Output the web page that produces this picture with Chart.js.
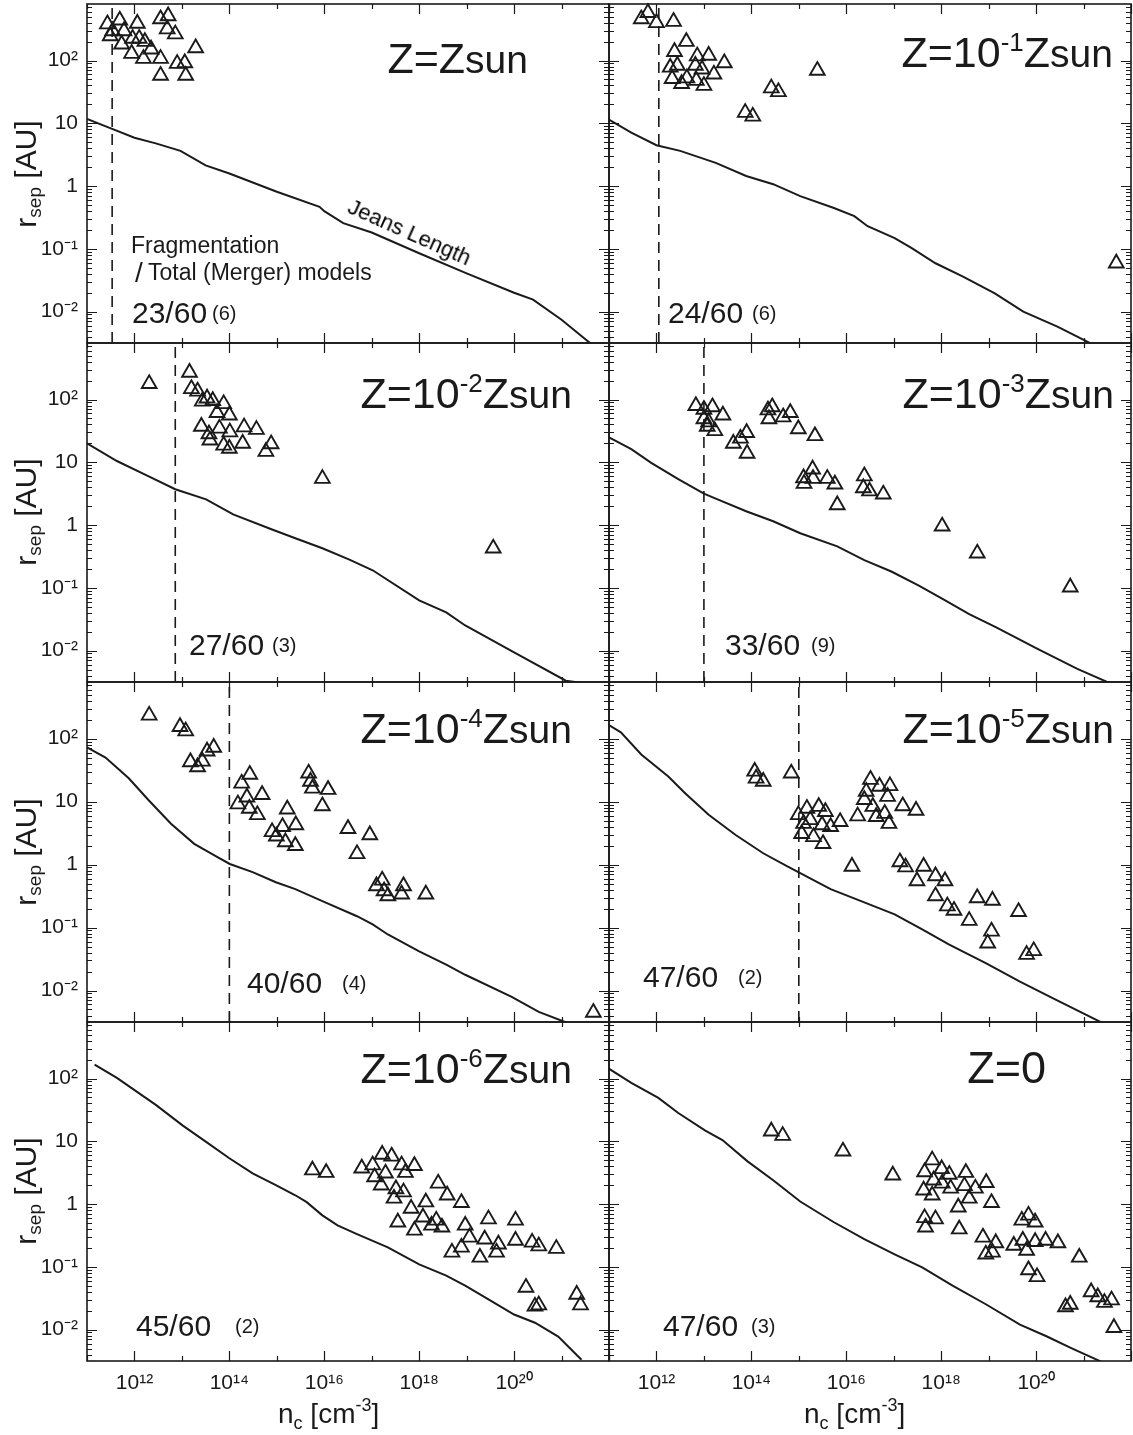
<!DOCTYPE html>
<html>
<head>
<meta charset="utf-8">
<script src="https://cdn.jsdelivr.net/npm/chart.js@4.4.1/dist/chart.umd.min.js"></script>
<style>
  body { margin: 0; background: #fff; }
  #fig { position: relative; width: 1133px; height: 1435px; overflow: hidden;
         font-family: 'Liberation Sans', Arial, sans-serif; color: #1a1a1a; }
  #fig canvas { position: absolute; }
  .t { position: absolute; white-space: nowrap; line-height: 1; }
</style>
</head>
<body>
<div id="fig"></div>
<script>
// all values, stored as [log10 n_c, log10 r_sep]
var ptsZsun = [[11.43,2.58],[11.69,2.64],[11.54,2.47],[11.49,2.39],[12.06,2.59],[11.78,2.47],
  [11.96,2.35],[12.10,2.35],[12.22,2.30],[11.73,2.26],[12.35,2.18],[11.94,2.11],[12.19,2.03],
  [12.55,2.03],[12.55,2.66],[12.71,2.71],[12.69,2.50],[12.86,2.42],[12.90,1.95],[13.06,1.96],
  [12.55,1.76],[13.08,1.76],[13.29,2.20]];
var ptsZm1 = [[11.68,2.66],[11.82,2.76],[12.00,2.60],[12.36,2.62],[12.63,2.30],[12.38,2.14],
  [12.86,2.07],[13.10,2.08],[13.43,1.96],[12.29,1.89],[12.44,1.92],[12.82,1.92],[12.96,1.86],
  [13.21,1.78],[12.33,1.71],[12.64,1.72],[12.53,1.63],[12.84,1.68],[13.00,1.60],[15.39,1.84],
  [14.42,1.56],[14.57,1.50],[13.87,1.17],[14.03,1.11],[21.69,-1.23]];
var ptsZm2 = [[12.31,2.25],[13.16,2.43],[13.20,2.17],[13.33,2.13],[13.43,1.97],[13.53,2.02],
  [13.65,1.98],[13.88,1.93],[13.74,1.79],[14.00,1.75],[13.41,1.57],[13.79,1.54],[13.57,1.45],
  [14.01,1.48],[14.31,1.56],[14.57,1.52],[13.59,1.35],[14.28,1.30],[13.88,1.27],[14.00,1.22],
  [14.77,1.17],[14.88,1.29],[15.96,0.74],[19.56,-0.37]];
var ptsZm3 = [[12.83,1.90],[13.00,1.84],[13.18,1.88],[13.40,1.75],[13.00,1.69],[13.10,1.64],
  [13.07,1.57],[13.23,1.50],[13.62,1.30],[13.77,1.38],[13.90,1.47],[13.91,1.14],[14.35,1.83],
  [14.44,1.88],[14.37,1.69],[14.67,1.72],[14.82,1.79],[14.99,1.53],[15.34,1.42],[15.10,0.75],
  [15.29,0.89],[15.11,0.66],[15.30,0.74],[15.60,0.74],[15.76,0.65],[15.81,0.32],[16.38,0.78],
  [16.36,0.59],[16.49,0.54],[16.78,0.49],[18.02,-0.02],[18.76,-0.45],[20.72,-0.99]];
var ptsZm4 = [[12.31,2.37],[12.96,2.19],[13.08,2.12],[13.18,1.63],[13.33,1.55],[13.43,1.64],
  [13.53,1.80],[13.67,1.86],[14.26,1.29],[14.43,1.43],[14.69,1.11],[14.37,1.07],[14.18,0.96],
  [14.42,0.89],[14.59,0.79],[15.22,0.88],[14.90,0.52],[14.99,0.45],[15.12,0.60],[15.18,0.36],
  [15.40,0.63],[15.39,0.30],[15.67,1.45],[15.71,1.32],[15.75,1.21],[16.08,1.19],[15.96,0.93],
  [16.50,0.57],[16.69,0.17],[16.96,0.47],[17.22,-0.25],[17.10,-0.34],[17.26,-0.42],[17.34,-0.50],
  [17.63,-0.47],[17.67,-0.34],[18.14,-0.47],[21.67,-2.35]];
var ptsZm5 = [[14.07,1.48],[14.10,1.37],[14.25,1.32],[14.84,1.45],[14.99,0.79],[15.17,0.89],
  [15.42,0.92],[15.56,0.84],[15.10,0.65],[15.24,0.71],[15.06,0.49],[15.31,0.44],[15.49,0.63],
  [15.51,0.33],[15.67,0.60],[15.87,0.68],[16.24,0.77],[16.38,1.03],[16.51,1.35],[16.42,1.16],
  [16.56,0.92],[16.70,1.24],[16.92,1.25],[16.87,1.08],[16.63,0.76],[16.81,0.81],[16.90,0.65],
  [17.19,0.93],[17.47,0.86],[16.12,-0.03],[17.13,0.04],[17.25,-0.04],[17.63,-0.03],[17.49,-0.26],
  [17.88,-0.18],[18.08,-0.26],[17.88,-0.50],[18.13,-0.66],[18.27,-0.73],[18.59,-0.89],
  [18.76,-0.53],[19.08,-0.57],[19.63,-0.75],[19.06,-1.06],[18.98,-1.25],[19.80,-1.43],[19.95,-1.37]];
var ptsZm6 = [[15.75,0.54],[16.04,0.50],[16.79,0.57],[17.02,0.62],[17.06,0.43],[17.22,0.79],
  [17.42,0.76],[17.29,0.49],[17.20,0.30],[17.63,0.62],[17.71,0.50],[17.90,0.61],[17.51,0.24],
  [17.47,0.09],[17.67,0.19],[17.83,-0.07],[17.55,-0.29],[17.90,-0.42],[18.14,0.03],[18.08,-0.21],
  [18.26,-0.34],[18.36,-0.26],[18.48,-0.37],[18.40,0.33],[18.59,0.14],[18.89,0.02],[18.97,-0.34],
  [19.06,-0.53],[18.89,-0.69],[18.69,-0.77],[19.38,-0.56],[19.46,-0.24],[19.67,-0.64],[19.63,-0.77],
  [19.28,-0.85],[20.03,-0.58],[20.03,-0.26],[20.38,-0.61],[20.52,-0.67],[20.89,-0.71],[20.25,-1.33],
  [20.44,-1.63],[20.52,-1.61],[21.32,-1.44],[21.40,-1.61]];
var ptsZ0 = [[14.42,1.16],[14.66,1.09],[15.93,0.84],[16.98,0.46],[17.81,0.70],[17.65,0.51],
  [18.01,0.56],[18.17,0.47],[17.84,0.38],[18.52,0.50],[18.02,0.33],[18.49,0.29],[18.20,0.25],
  [18.72,0.25],[17.63,0.22],[17.81,0.14],[18.95,0.34],[18.59,0.09],[19.06,0.02],[18.36,-0.05],
  [17.65,-0.22],[17.88,-0.24],[17.67,-0.37],[18.38,-0.40],[18.88,-0.53],[19.15,-0.62],[18.94,-0.80],
  [19.08,-0.77],[19.53,-0.66],[19.72,-0.58],[19.98,-0.60],[20.20,-0.58],[20.46,-0.62],[19.70,-0.26],
  [19.84,-0.18],[19.98,-0.29],[19.80,-0.74],[20.91,-0.85],[19.84,-1.05],[20.02,-1.16],[20.62,-1.64],
  [20.72,-1.60],[21.16,-1.40],[21.30,-1.48],[21.44,-1.57],[21.59,-1.53],[21.64,-1.97]];

// Jeans length curves
var jeansZsun = [[11.0,1.07],[11.53,0.91],[12.0,0.77],[12.45,0.68],[12.97,0.56],[13.5,0.33],[14.0,0.20],
  [15.0,-0.09],[15.9,-0.33],[16.0,-0.40],[16.4,-0.59],[17.0,-0.74],[18.0,-1.07],[19.0,-1.39],
  [20.0,-1.70],[20.4,-1.81],[21.0,-2.13],[21.6,-2.5]];
var jeansZm1 = [[10.97,1.07],[11.47,0.85],[12.0,0.65],[12.5,0.56],[13.25,0.37],[13.89,0.16],[14.46,0.03],
  [15.03,-0.16],[15.74,-0.35],[16.17,-0.48],[16.45,-0.64],[17.02,-0.83],[17.38,-0.99],[17.88,-1.23],
  [18.45,-1.44],[19.13,-1.71],[19.73,-2.0],[20.45,-2.24],[21.16,-2.51]];
var jeansZm2 = [[11.0,1.30],[11.63,1.02],[12.29,0.78],[12.86,0.57],[13.51,0.41],[14.08,0.17],[14.9,-0.07],
  [15.39,-0.21],[15.96,-0.37],[16.53,-0.55],[17.02,-0.72],[18.0,-1.20],[18.57,-1.39],[18.97,-1.60],
  [20.0,-2.03],[21.09,-2.48],[21.58,-2.53]];
var jeansZm3 = [[10.97,1.41],[11.47,1.21],[11.89,0.99],[12.46,0.73],[13.0,0.50],[13.25,0.42],[13.89,0.22],
  [14.46,0.06],[15.03,-0.13],[15.81,-0.34],[16.38,-0.56],[16.95,-0.74],[17.52,-0.96],[18.02,-1.17],
  [18.59,-1.42],[19.16,-1.63],[20.02,-1.97],[20.87,-2.29],[21.59,-2.53]];
var jeansZm4 = [[11.0,1.86],[11.39,1.70],[11.88,1.37],[12.29,1.03],[12.77,0.65],[13.26,0.33],[13.75,0.12],
  [14.01,0.01],[14.49,-0.12],[14.98,-0.28],[15.39,-0.39],[15.96,-0.58],[16.69,-0.82],[17.02,-0.95],
  [17.34,-1.11],[18.0,-1.38],[18.57,-1.59],[18.97,-1.75],[19.95,-2.10],[20.52,-2.34],[21.18,-2.53]];
var jeansZm5 = [[10.97,2.23],[11.25,2.10],[11.68,1.75],[12.25,1.40],[12.61,1.13],[13.10,0.79],[13.67,0.47],
  [14.25,0.18],[14.74,-0.02],[14.99,-0.12],[15.67,-0.39],[16.38,-0.60],[17.02,-0.79],[17.6,-1.03],
  [18.17,-1.27],[18.95,-1.57],[19.66,-1.86],[20.37,-2.13],[21.44,-2.53]];
var jeansZm6 = [[11.16,2.22],[11.63,2.01],[12.45,1.58],[13.02,1.25],[13.51,0.99],[14.0,0.73],[14.49,0.49],
  [14.98,0.30],[15.39,0.14],[15.63,0.03],[15.96,-0.18],[16.28,-0.34],[16.69,-0.48],[17.34,-0.69],
  [18.0,-0.96],[18.57,-1.14],[18.97,-1.30],[19.46,-1.52],[20.0,-1.76],[20.44,-1.89],[20.93,-2.11],[21.42,-2.48]];
var jeansZ0 = [[10.97,2.17],[11.47,1.93],[12.04,1.69],[12.46,1.45],[13.03,1.17],[13.39,1.02],[13.92,0.68],
  [14.46,0.38],[15.03,0.04],[15.74,-0.29],[16.38,-0.56],[17.02,-0.80],[17.60,-1.01],[18.24,-1.30],
  [18.95,-1.60],[19.66,-1.92],[20.23,-2.11],[20.73,-2.29],[21.37,-2.51]];

// vertical dashed lines (log10 n_c), none for the last two panels
var dashLogN = [11.53, 12.05, 12.86, 13.0, 14.0, 15.0, null, null];

var titleExp = ['', '-1', '-2', '-3', '-4', '-5', '-6', null];
var fragText = ['23/60', '24/60', '27/60', '33/60', '40/60', '47/60', '45/60', '47/60'];
var mergText = ['(6)', '(6)', '(3)', '(9)', '(4)', '(2)', '(2)', '(3)'];

// axis ticks
var xDecades = [11, 12, 13, 14, 15, 16, 17, 18, 19, 20, 21, 22];
var xLabelExp = [12, 14, 16, 18, 20];
var xLabelText = ['10¹²', '10¹⁴', '10¹⁶', '10¹⁸', '10²⁰'];
var yDecades = [-3, -2, -1, 0, 1, 2];
var yLabelExp = [2, 1, 0, -1, -2];
var yLabelText = ['10²', '10', '1', '10⁻¹', '10⁻²'];

var allPts = [ptsZsun, ptsZm1, ptsZm2, ptsZm3, ptsZm4, ptsZm5, ptsZm6, ptsZ0];
var allJeans = [jeansZsun, jeansZm1, jeansZm2, jeansZm3, jeansZm4, jeansZm5, jeansZm6, jeansZ0];

// layout in page pixels
var COL_X = [87, 609], ROW_Y = [4, 343, 682, 1022], ROW_B = [343, 682, 1022, 1361], PW = 522;
var X_MIN = 1e11, X_MAX = 1e22, Y_MIN = Math.pow(10, -2.5), Y_MAX = Math.pow(10, 2.9);
var INK = '#1a1a1a';
var FONT = "'Liberation Sans', Arial, sans-serif";

var titlePos = [[528,73],[1113,67],[572,408],[1114,408],[572,743],[1114,743],[572,1083],[1046,1083]];
var countPos = [[132,323,212],[668,323,752],[189,655,272],[725,655,811],
                [247,993,342],[643,987,738],[136,1336,235],[663,1336,751]];

var fig = document.getElementById('fig');

function toXY(arr) {
  return arr.map(function (p) { return {x: Math.pow(10, p[0]), y: Math.pow(10, p[1])}; });
}

function nearExp(v, list) {
  var e = Math.log10(v);
  for (var i = 0; i < list.length; i++) {
    if (Math.abs(e - list[i]) < 1e-6) return i;
  }
  return -1;
}

// frame plus inward ticks on all four sides
var frameTicks = {
  id: 'frameTicks',
  afterDraw: function (chart) {
    var ctx = chart.ctx, a = chart.chartArea, xs = chart.scales.x, ys = chart.scales.y;
    ctx.save();
    ctx.strokeStyle = INK;
    ctx.lineWidth = 1.2;
    ctx.beginPath();
    xs.ticks.forEach(function (t) {
      var px = Math.round(xs.getPixelForValue(t.value)) + 0.5;
      var len = t.major ? 10 : 5;
      ctx.moveTo(px, a.bottom); ctx.lineTo(px, a.bottom - len);
      ctx.moveTo(px, a.top); ctx.lineTo(px, a.top + len);
    });
    ys.ticks.forEach(function (t) {
      var py = Math.round(ys.getPixelForValue(t.value)) + 0.5;
      var len = t.major ? 10 : 5;
      ctx.moveTo(a.left, py); ctx.lineTo(a.left + len, py);
      ctx.moveTo(a.right, py); ctx.lineTo(a.right - len, py);
    });
    ctx.stroke();
    ctx.lineWidth = 1.6;
    ctx.strokeRect(a.left, a.top, a.right - a.left, a.bottom - a.top);
    ctx.restore();
  }
};

function zeroPad(s) {
  s.paddingTop = 0; s.paddingBottom = 0; s.paddingLeft = 0; s.paddingRight = 0;
}

function makePanel(i) {
  var r = Math.floor(i / 2), c = i % 2;
  var bottomRow = r === 3, leftCol = c === 0;
  var h = ROW_B[r] - ROW_Y[r];
  var cv = document.createElement('canvas');
  var w = 87 + PW + 6;
  var ch = 6 + h + (bottomRow ? 74 : 6);
  cv.width = w; cv.height = ch;
  cv.style.left = (COL_X[c] - 87) + 'px';
  cv.style.top = (ROW_Y[r] - 6) + 'px';
  fig.appendChild(cv);

  var datasets = [{
    data: toXY(allPts[i]),
    pointStyle: 'triangle',
    pointRadius: 8.5,
    pointBorderWidth: 1.9,
    pointBorderColor: INK,
    pointBackgroundColor: 'rgba(0,0,0,0)',
    showLine: false,
    clip: 12
  }, {
    data: toXY(allJeans[i]),
    showLine: true,
    borderColor: INK,
    borderWidth: 2,
    pointRadius: 0,
    tension: 0,
    clip: 0
  }];
  if (dashLogN[i] !== null) {
    datasets.push({
      data: [{x: Math.pow(10, dashLogN[i]), y: Y_MIN}, {x: Math.pow(10, dashLogN[i]), y: Y_MAX}],
      showLine: true,
      borderColor: INK,
      borderWidth: 1.6,
      borderDash: [11, 7],
      pointRadius: 0,
      clip: 0
    });
  }

  new Chart(cv, {
    type: 'scatter',
    data: {datasets: datasets},
    options: {
      responsive: false,
      animation: false,
      events: [],
      layout: {autoPadding: false, padding: {left: 0, right: 6, top: 6, bottom: bottomRow ? 0 : 6}},
      plugins: {legend: {display: false}, tooltip: {enabled: false}},
      scales: {
        x: {
          type: 'logarithmic', min: X_MIN, max: X_MAX,
          grid: {display: false, drawTicks: false},
          border: {display: false},
          afterBuildTicks: function (s) {
            s.ticks = xDecades.map(function (d) { return {value: Math.pow(10, d), major: d % 2 === 0}; });
          },
          afterFit: function (s) { s.height = bottomRow ? 74 : 0; zeroPad(s); },
          ticks: {
            display: bottomRow, autoSkip: false, maxRotation: 0, padding: 10, color: INK,
            font: {family: FONT, size: 21},
            callback: function (v) { var k = nearExp(v, xLabelExp); return k < 0 ? '' : xLabelText[k]; }
          }
        },
        y: {
          type: 'logarithmic', min: Y_MIN, max: Y_MAX,
          grid: {display: false, drawTicks: false},
          border: {display: false},
          afterBuildTicks: function (s) {
            var t = [];
            yDecades.forEach(function (d) {
              for (var m = 1; m < 10; m++) {
                var v = m * Math.pow(10, d);
                if (v >= Y_MIN && v <= Y_MAX) t.push({value: v, major: m === 1});
              }
            });
            s.ticks = t;
          },
          afterFit: function (s) { s.width = 87; zeroPad(s); },
          ticks: {
            display: leftCol, autoSkip: false, padding: 9, color: INK,
            font: {family: FONT, size: 21},
            callback: function (v) { var k = nearExp(v, yLabelExp); return k < 0 ? '' : yLabelText[k]; }
          }
        }
      }
    },
    plugins: [frameTicks]
  });
}

function addText(html, x, base, size, alignRight) {
  var d = document.createElement('div');
  d.className = 't';
  d.style.fontSize = size + 'px';
  d.style.top = (base - 0.8465 * size) + 'px';
  if (alignRight) d.style.right = (1133 - x) + 'px'; else d.style.left = x + 'px';
  d.innerHTML = html;
  fig.appendChild(d);
  return d;
}

for (var i = 0; i < 8; i++) {
  makePanel(i);
  var title;
  if (titleExp[i] === null) title = 'Z=0';
  else if (titleExp[i] === '') title = 'Z=Z<span style="font-size:39px">sun</span>';
  else title = 'Z=10<span style="font-size:26px;position:relative;top:-16px">' + titleExp[i] +
    '</span>Z<span style="font-size:39px">sun</span>';
  addText(title, titlePos[i][0], titlePos[i][1], titleExp[i] === null ? 45 : 43, true);
  addText(fragText[i], countPos[i][0], countPos[i][1], 30, false);
  addText(mergText[i], countPos[i][2], countPos[i][1] - 3, 20, false);
}

// notes in the first panel
addText('Fragmentation', 131, 253, 23, false);
addText('/', 135, 283, 28, false);
addText('Total (Merger) models', 148, 280, 23, false);
var jl = addText('Jeans Length', 346, 213, 22, false);
jl.style.transformOrigin = '0 ' + (0.8465 * 22) + 'px';
jl.style.transform = 'rotate(24deg)';
jl.style.color = '#000';

// axis titles
var rowMid = [174, 512, 852, 1191];
rowMid.forEach(function (ym) {
  var d = document.createElement('div');
  d.className = 't';
  d.style.fontSize = '30px';
  d.style.left = '26px';
  d.style.top = ym + 'px';
  d.style.transform = 'translate(-50%,-50%) rotate(-90deg)';
  d.innerHTML = 'r<span style="font-size:19px;position:relative;top:5px">sep</span> [AU]';
  fig.appendChild(d);
});
[278, 804].forEach(function (xl) {
  addText('n<span style="font-size:18px;position:relative;top:6px">c</span> [cm' +
    '<span style="font-size:18px;position:relative;top:-12px">-3</span>]', xl, 1424, 28, false);
});
</script>
</body>
</html>
